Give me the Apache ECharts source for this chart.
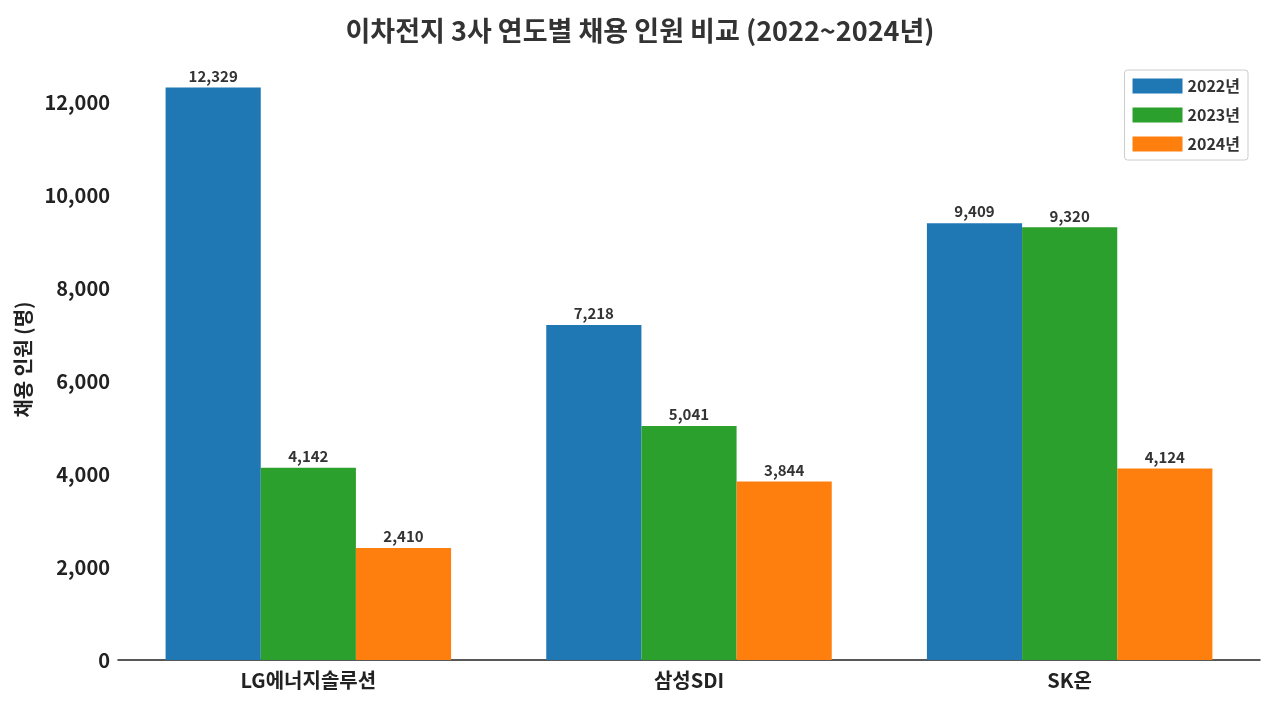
<!DOCTYPE html><html><head><meta charset="utf-8"><script src="https://cdn.jsdelivr.net/npm/echarts@6/dist/echarts.min.js"></script>
<style>body{margin:0}#c{width:1280px;height:711px}</style></head><body><div id="c"></div><script>
const categories=['LG에너지솔루션','삼성SDI','SK온'];
const years=['2022년','2023년','2024년'];
const v2022=[12329,7218,9409];
const v2023=[4142,5041,9320];
const v2024=[2410,3844,4124];
const colors=['#1f77b4','#2ca02c','#ff7f0e'];
const F='Noto Sans CJK KR';
const ch=echarts.init(document.getElementById('c'));
const mk=(n,d,i)=>({name:n,type:'bar',data:d,barGap:'0%',barCategoryGap:'25%',itemStyle:{color:colors[i]},
 label:{show:true,position:'top',distance:4,fontFamily:F,fontWeight:'bold',fontSize:15,color:'#333',formatter:p=>p.value.toLocaleString('en-US')}});
ch.setOption({
 textStyle:{fontFamily:F},
 title:{text:'이차전지 3사 연도별 채용 인원 비교 (2022~2024년)',left:'center',top:12,textStyle:{fontFamily:F,fontSize:27,fontWeight:'bold',color:'#333'}},
 legend:{right:32,top:70,orient:'vertical',itemWidth:50,itemHeight:15,itemGap:13,borderColor:'#ccc',borderWidth:1,borderRadius:3,padding:[8,8,8,8],
  textStyle:{fontFamily:F,fontSize:16,fontWeight:'bold',color:'#333'},icon:'rect'},
 grid:{left:118,right:20,top:59,bottom:51},
 xAxis:{type:'category',data:categories,axisTick:{show:false},axisLine:{lineStyle:{color:'#222',width:1.5}},
  axisLabel:{fontFamily:F,fontSize:20,fontWeight:'bold',color:'#222',margin:10}},
 yAxis:{type:'value',min:0,max:12945,interval:2000,splitLine:{show:false},axisLine:{show:false},axisTick:{show:false},
  axisLabel:{fontFamily:F,fontSize:20,fontWeight:'bold',color:'#222',margin:8,showMaxLabel:false},
  name:'채용 인원 (명)',nameLocation:'middle',nameGap:72,nameTextStyle:{fontFamily:F,fontSize:20,fontWeight:'bold',color:'#222'}},
 series:[mk(years[0],v2022,0),mk(years[1],v2023,1),mk(years[2],v2024,2)]
});
</script></body></html>
